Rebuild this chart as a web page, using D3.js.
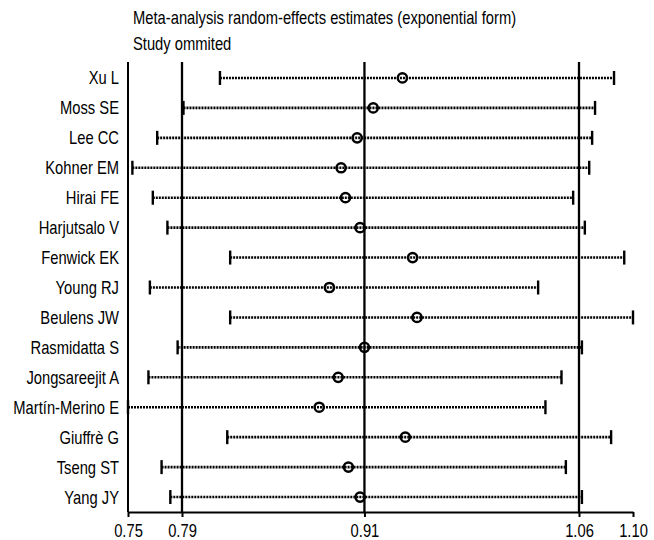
<!DOCTYPE html>
<html>
<head>
<meta charset="utf-8">
<script src="https://cdn.jsdelivr.net/npm/d3@7"></script>
<style>
  body { margin: 0; background: #fff; }
  text { font-family: "Liberation Sans", Arial, sans-serif; fill: #000; }
</style>
</head>
<body>
<div id="chart"></div>
<script>
// study omitted in each row
const studies = ["Xu L", "Moss SE", "Lee CC", "Kohner EM", "Hirai FE", "Harjutsalo V", "Fenwick EK",
  "Young RJ", "Beulens JW", "Rasmidatta S", "Jongsareejit A", "Martín-Merino E", "Giuffrè G", "Tseng ST", "Yang JY"];
const estimates = [0.940, 0.920, 0.909, 0.898, 0.901, 0.911, 0.947, 0.890, 0.950, 0.914, 0.896, 0.883, 0.942, 0.903, 0.911];
const lowerCI   = [0.815, 0.790, 0.772, 0.755, 0.769, 0.779, 0.822, 0.767, 0.822, 0.786, 0.766, 0.752, 0.820, 0.775, 0.781];
const upperCI   = [1.085, 1.072, 1.070, 1.068, 1.057, 1.065, 1.092, 1.033, 1.098, 1.063, 1.049, 1.038, 1.083, 1.052, 1.063];

// combined estimate (lower, estimate, upper) and axis range
const overall = [0.789, 0.914, 1.061];
const axisRange = [0.752, 1.098];
const tickValues = [0.752, 0.789, 0.914, 1.061, 1.098];
const tickLabels = ["0.75", "0.79", "0.91", "1.06", "1.10"];

const width = 654, height = 540;
const plotLeft = 128, plotRight = 633, plotTop = 63, plotBottom = 512;
const squeeze = 0.82; // the original uses a narrow font
const fontSize = 18;

const svg = d3.select("#chart").append("svg")
  .attr("width", width)
  .attr("height", height);

const x = d3.scaleLinear().domain(axisRange).range([plotLeft, plotRight]);
const y = d3.scaleBand().domain(studies).range([plotTop, plotBottom]);
const yc = d => y(d) + y.bandwidth() / 2;

svg.append("text")
  .attr("transform", `translate(133,24) scale(${squeeze},1)`)
  .attr("font-size", fontSize)
  .text("Meta-analysis random-effects estimates (exponential form)");
svg.append("text")
  .attr("transform", `translate(133,50) scale(${squeeze},1)`)
  .attr("font-size", fontSize)
  .text("Study ommited");

// left border of the plot
svg.append("line")
  .attr("x1", plotLeft).attr("x2", plotLeft)
  .attr("y1", plotTop - 1).attr("y2", plotBottom)
  .attr("stroke", "#000").attr("stroke-width", 2);

// overall estimate lines
svg.append("g")
  .selectAll("line")
  .data(overall)
  .join("line")
  .attr("x1", d => x(d)).attr("x2", d => x(d))
  .attr("y1", plotTop - 1).attr("y2", plotBottom)
  .attr("stroke", "#000")
  .attr("stroke-width", 2.3);

const rows = studies.map((s, i) => ({name: s, est: estimates[i], lo: lowerCI[i], hi: upperCI[i]}));

const row = svg.append("g")
  .selectAll("g")
  .data(rows)
  .join("g");

row.append("line")
  .attr("x1", d => x(d.lo)).attr("x2", d => x(d.hi))
  .attr("y1", d => yc(d.name)).attr("y2", d => yc(d.name))
  .attr("stroke", "#000")
  .attr("stroke-width", 2.6)
  .attr("stroke-dasharray", "2,1");

row.selectAll("line.cap")
  .data(d => [{v: d.lo, n: d.name}, {v: d.hi, n: d.name}])
  .join("line")
  .attr("class", "cap")
  .attr("x1", d => x(d.v)).attr("x2", d => x(d.v))
  .attr("y1", d => yc(d.n) - 7).attr("y2", d => yc(d.n) + 7)
  .attr("stroke", "#000")
  .attr("stroke-width", 2.4);

row.append("circle")
  .attr("cx", d => x(d.est))
  .attr("cy", d => yc(d.name))
  .attr("r", 4.6)
  .attr("fill", "none")
  .attr("stroke", "#000")
  .attr("stroke-width", 2.5);

row.append("text")
  .attr("transform", d => `translate(119,${yc(d.name)}) scale(${squeeze},1)`)
  .attr("dy", "0.36em")
  .attr("text-anchor", "end")
  .attr("font-size", fontSize)
  .text(d => d.name);

const xAxis = svg.append("g")
  .attr("transform", `translate(0,${plotBottom})`)
  .call(d3.axisBottom(x)
    .tickValues(tickValues)
    .tickFormat((d, i) => tickLabels[i])
    .tickSize(5)
    .tickSizeOuter(0)
    .tickPadding(7));

xAxis.attr("font-family", null);
xAxis.select(".domain").attr("stroke", "#000").attr("stroke-width", 2);
xAxis.selectAll(".tick line").attr("stroke", "#000").attr("stroke-width", 2);
xAxis.selectAll(".tick text")
  .attr("font-size", fontSize)
  .attr("fill", "#000")
  .attr("transform", `scale(${squeeze},1)`);
</script>
</body>
</html>
